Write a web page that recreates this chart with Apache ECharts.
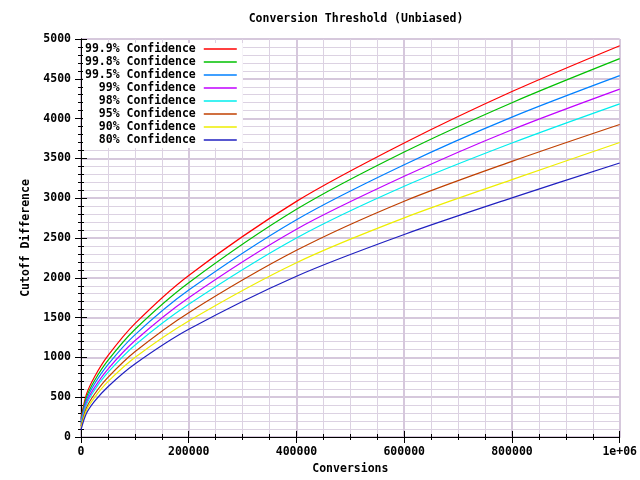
<!DOCTYPE html>
<html>
<head>
<meta charset="utf-8">
<script src="https://cdn.jsdelivr.net/npm/echarts@6/dist/echarts.min.js"></script>
<style>
  html, body { margin: 0; padding: 0; background: #fff; }
  #chart { width: 640px; height: 480px; }
</style>
</head>
<body>
<div id="chart"></div>
<script>
// conversion threshold curves
var conversions = [0, 10000, 25000, 50000, 100000, 200000, 400000, 600000, 800000, 1000000];
var levels = ['99.9%', '99.8%', '99.5%', '99%', '98%', '95%', '90%', '80%'];

var conf999 = [230, 534, 754, 1021, 1424, 2030, 2960, 3693, 4340, 4916];
var conf998 = [210, 497, 707, 962, 1351, 1938, 2860, 3580, 4200, 4753];
var conf995 = [190, 464, 666, 910, 1283, 1846, 2730, 3421, 4019, 4540];
var conf99 = [175, 430, 620, 854, 1209, 1750, 2610, 3275, 3860, 4370];
var conf98 = [160, 405, 587, 811, 1153, 1667, 2500, 3150, 3693, 4185];
var conf95 = [135, 365, 537, 748, 1070, 1562, 2345, 2962, 3463, 3926];
var conf90 = [115, 333, 495, 695, 999, 1458, 2190, 2753, 3233, 3700];
var conf80 = [90, 294, 446, 632, 917, 1353, 2020, 2544, 3004, 3442];

var values = [conf999, conf998, conf995, conf99, conf98, conf95, conf90, conf80];
var colors = ['#ff0000', '#00c000', '#0080ff', '#c000ff', '#00eeee', '#c04000', '#eeee00', '#2020c0'];

var font = 'DejaVu Sans Mono';
var fontSize = 11.5;

var series = [];
for (var i = 0; i < levels.length; i++) {
  var pts = [];
  for (var j = 0; j < conversions.length; j++) {
    pts.push([conversions[j], values[i][j]]);
  }
  series.push({
    name: levels[i] + ' Confidence',
    type: 'line',
    data: pts,
    smooth: 0.3,
    symbol: 'none',
    color: colors[i],
    lineStyle: { width: 1.2, color: colors[i] }
  });
}

// pad legend names so the text lines up on the right, like gnuplot's key
var padName = function (name) {
  while (name.length < 16) name = ' ' + name;
  return name;
};

var tickStyle = { color: '#000', width: 1 };
var labelStyle = { color: '#000', fontFamily: font, fontWeight: 'bold', fontSize: fontSize };

var option = {
  animation: false,
  backgroundColor: '#fff',
  title: {
    text: 'Conversion Threshold (Unbiased)',
    left: 351,
    top: 8,
    textAlign: 'center',
    textStyle: { color: '#000', fontFamily: font, fontWeight: 'bold', fontSize: fontSize }
  },
  grid: { left: 81, right: 19, top: 39, bottom: 42, containLabel: false },
  legend: {
    orient: 'vertical',
    left: 83,
    top: 43,
    align: 'right',
    icon: 'path://M0,0L33,0L33,1.4L0,1.4Z',
    itemWidth: 33,
    itemHeight: 13,
    itemGap: 1,
    padding: [0, 6, 2, 2],
    backgroundColor: '#fff',
    formatter: padName,
    textStyle: { color: '#000', fontFamily: font, fontWeight: 'bold', fontSize: fontSize, padding: [0, 3, 0, 0] }
  },
  xAxis: [{
    type: 'value',
    min: 0,
    max: 1000000,
    interval: 200000,
    name: 'Conversions',
    nameLocation: 'middle',
    nameGap: 26,
    nameTextStyle: labelStyle,
    axisLine: { lineStyle: tickStyle },
    axisTick: { inside: true, length: 6, lineStyle: tickStyle },
    minorTick: { show: true, splitNumber: 4, length: 3, lineStyle: tickStyle },
    splitLine: { show: true, lineStyle: { color: '#d6c8dc', width: 2 } },
    minorSplitLine: { show: true, lineStyle: { color: '#dcd2e2', width: 1 } },
    axisLabel: {
      margin: 9,
      formatter: function (v) { return v === 1000000 ? '1e+06' : String(v); },
      color: '#000', fontFamily: font, fontWeight: 'bold', fontSize: fontSize
    }
  }, {
    type: 'value',
    position: 'top',
    min: 0,
    max: 1000000,
    interval: 200000,
    axisLine: { show: true, lineStyle: tickStyle },
    axisTick: { inside: true, length: 6, lineStyle: tickStyle },
    minorTick: { show: true, splitNumber: 4, length: 3, lineStyle: tickStyle },
    splitLine: { show: false },
    axisLabel: { show: false }
  }],
  yAxis: [{
    type: 'value',
    min: 0,
    max: 5000,
    interval: 500,
    name: 'Cutoff Difference',
    nameLocation: 'middle',
    nameGap: 45,
    nameRotate: 90,
    nameTextStyle: labelStyle,
    axisLine: { show: true, lineStyle: tickStyle },
    axisTick: { inside: true, length: 6, lineStyle: tickStyle },
    minorTick: { show: true, splitNumber: 5, length: 3, lineStyle: tickStyle },
    splitLine: { show: true, lineStyle: { color: '#d6c8dc', width: 2 } },
    minorSplitLine: { show: true, lineStyle: { color: '#dcd2e2', width: 1 } },
    axisLabel: {
      margin: 10,
      formatter: function (v) { return String(v); },
      color: '#000', fontFamily: font, fontWeight: 'bold', fontSize: fontSize
    }
  }, {
    type: 'value',
    position: 'right',
    min: 0,
    max: 5000,
    interval: 500,
    axisLine: { show: true, lineStyle: tickStyle },
    axisTick: { inside: true, length: 6, lineStyle: tickStyle },
    minorTick: { show: true, splitNumber: 5, length: 3, lineStyle: tickStyle },
    splitLine: { show: false },
    axisLabel: { show: false }
  }],
  series: series
};

var chart = echarts.init(document.getElementById('chart'));
chart.setOption(option);
</script>
</body>
</html>
